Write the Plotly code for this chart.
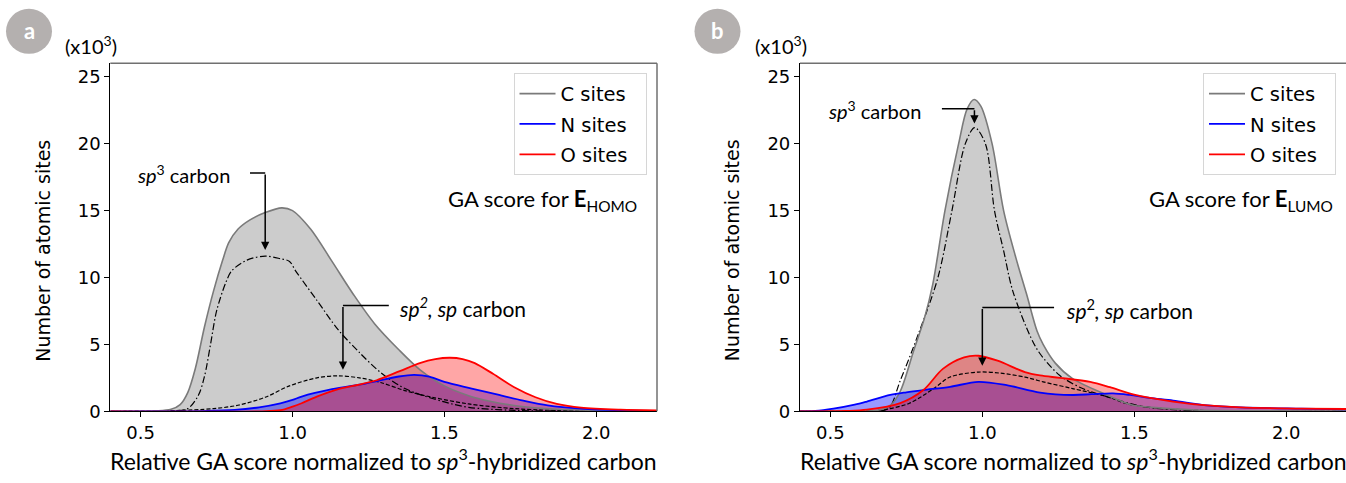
import plotly.graph_objects as go

# ---------------- data (panel a: E_HOMO) ----------------
a_c_x = [0.4, 0.55, 0.6, 0.63, 0.655, 0.68, 0.71, 0.74, 0.77, 0.79, 0.82, 0.86, 0.91, 0.965, 1.0, 1.06, 1.13, 1.20, 1.27, 1.35, 1.42, 1.5, 1.58, 1.65, 1.73, 1.87, 2.0, 2.2]
a_c_y = [0, 0.03, 0.15, 0.5, 1.4, 3.2, 6.3, 9.0, 11.3, 12.6, 13.6, 14.3, 14.85, 15.2, 15.0, 13.6, 11.2, 8.75, 6.55, 4.6, 3.1, 1.9, 1.17, 0.75, 0.44, 0.15, 0.07, 0.02]

a_sp3_x = [0.4, 0.6, 0.655, 0.69, 0.71, 0.73, 0.75, 0.78, 0.80, 0.85, 0.91, 0.96, 0.99, 1.01, 1.08, 1.15, 1.22, 1.29, 1.37, 1.5, 1.58, 1.73, 1.9, 2.2]
a_sp3_y = [0, 0.02, 0.2, 1.2, 2.6, 5.0, 7.5, 9.6, 10.5, 11.3, 11.6, 11.4, 11.2, 10.5, 8.3, 6.1, 4.4, 2.9, 1.7, 0.7, 0.3, 0.07, 0.02, 0]

a_sp2_x = [0.4, 0.6, 0.74, 0.82, 0.91, 0.99, 1.08, 1.15, 1.22, 1.29, 1.37, 1.46, 1.58, 1.73, 1.87, 2.2]
a_sp2_y = [0, 0.05, 0.2, 0.45, 1.05, 1.9, 2.5, 2.65, 2.5, 2.15, 1.55, 1.05, 0.55, 0.2, 0.07, 0]

a_n_x = [0.4, 0.7, 0.81, 0.89, 0.96, 1.0, 1.03, 1.13, 1.24, 1.35, 1.40, 1.45, 1.5, 1.59, 1.68, 1.76, 1.84, 1.95, 2.08, 2.2]
a_n_y = [0, 0.02, 0.1, 0.3, 0.6, 0.85, 1.1, 1.65, 2.07, 2.6, 2.72, 2.6, 2.2, 1.7, 1.22, 0.8, 0.45, 0.2, 0.07, 0.03]

a_o_x = [0.4, 0.9, 0.96, 1.0, 1.03, 1.08, 1.156, 1.22, 1.277, 1.353, 1.419, 1.47, 1.518, 1.56, 1.6, 1.66, 1.73, 1.80, 1.87, 1.95, 2.08, 2.2]
a_o_y = [0, 0, 0.08, 0.35, 0.6, 1.1, 1.7, 2.0, 2.32, 3.0, 3.6, 3.9, 4.0, 3.9, 3.6, 2.8, 1.8, 1.05, 0.55, 0.27, 0.12, 0.07]

# ---------------- data (panel b: E_LUMO) ----------------
b_c_x = [0.4, 0.6, 0.66, 0.70, 0.73, 0.775, 0.81, 0.837, 0.877, 0.922, 0.95, 0.973, 0.995, 1.032, 1.07, 1.11, 1.145, 1.18, 1.2, 1.24, 1.297, 1.41, 1.49, 1.56, 1.7, 2.2]
b_c_y = [0, 0.02, 0.1, 0.5, 1.5, 4.6, 7.0, 9.5, 15.0, 20.0, 22.6, 23.3, 22.8, 20.0, 15.0, 11.5, 8.8, 6.0, 5.0, 3.6, 2.44, 1.22, 0.49, 0.29, 0.1, 0.02]

b_sp3_x = [0.4, 0.62, 0.69, 0.73, 0.79, 0.854, 0.9, 0.944, 0.975, 1.01, 1.04, 1.07, 1.1, 1.16, 1.19, 1.255, 1.33, 1.41, 1.5, 1.56, 1.7, 2.2]
b_sp3_y = [0, 0.02, 0.2, 2.3, 5.8, 10.0, 15.0, 20.0, 21.2, 20.0, 15.0, 12.0, 9.0, 5.5, 4.3, 2.68, 1.7, 1.1, 0.5, 0.25, 0.05, 0]

b_sp2_x = [0.4, 0.6, 0.67, 0.76, 0.84, 0.894, 0.987, 1.06, 1.14, 1.2, 1.297, 1.41, 1.47, 1.55, 1.7, 2.2]
b_sp2_y = [0, 0.02, 0.1, 0.6, 1.7, 2.56, 2.93, 2.85, 2.56, 2.2, 1.7, 1.1, 0.6, 0.3, 0.08, 0]

b_n_x = [0.4, 0.45, 0.51, 0.58, 0.62, 0.697, 0.75, 0.806, 0.894, 0.987, 1.08, 1.19, 1.297, 1.36, 1.43, 1.485, 1.55, 1.628, 1.74, 1.85, 2.05, 2.2]
b_n_y = [0, 0.03, 0.2, 0.5, 0.73, 1.22, 1.42, 1.59, 1.83, 2.2, 1.95, 1.4, 1.22, 1.28, 1.34, 1.22, 1.0, 0.8, 0.44, 0.29, 0.2, 0.15]

b_o_x = [0.4, 0.55, 0.62, 0.73, 0.806, 0.87, 0.94, 0.987, 1.05, 1.14, 1.19, 1.255, 1.355, 1.42, 1.496, 1.628, 1.74, 1.85, 2.05, 2.2]
b_o_y = [0, 0.03, 0.12, 0.61, 1.59, 3.17, 4.03, 4.15, 3.78, 2.93, 2.68, 2.5, 2.2, 1.8, 1.27, 0.73, 0.44, 0.29, 0.2, 0.17]

x_ticks = [0.5, 1.0, 1.5, 2.0]
x_tick_labels = ["0.5", "1.0", "1.5", "2.0"]
y_ticks = [0, 5, 10, 15, 20, 25]
y_tick_labels = ["0", "5", "10", "15", "20", "25"]
series_names = ["C sites", "N sites", "O sites"]

W, H = 1346, 483
TXT_FONT = "Lato"
MPL_FONT = "DejaVu Sans"

def px_x(p):
    return p / W

def px_y(p):
    return 1 - p / H

fig = go.Figure()

panels = [
    dict(xa="x", ya="y", leg="legend",
         c=(a_c_x, a_c_y), sp3=(a_sp3_x, a_sp3_y), sp2=(a_sp2_x, a_sp2_y),
         n=(a_n_x, a_n_y), o=(a_o_x, a_o_y)),
    dict(xa="x2", ya="y2", leg="legend2",
         c=(b_c_x, b_c_y), sp3=(b_sp3_x, b_sp3_y), sp2=(b_sp2_x, b_sp2_y),
         n=(b_n_x, b_n_y), o=(b_o_x, b_o_y)),
]

SM = 0.9
for pi, p in enumerate(panels):
    xa, ya = p["xa"], p["ya"]
    for key, fc in [("c", "rgba(128,128,128,0.4)"), ("n", "rgba(0,0,255,0.4)"), ("o", "rgba(255,0,0,0.35)")]:
        xs, ys = p[key]
        fig.add_trace(go.Scatter(x=xs, y=ys, mode="lines", fill="tozeroy", fillcolor=fc,
                                 line=dict(width=0, shape="spline", smoothing=SM),
                                 showlegend=False, hoverinfo="skip", xaxis=xa, yaxis=ya))
    xs, ys = p["sp3"]
    fig.add_trace(go.Scatter(x=xs, y=ys, mode="lines",
                             line=dict(color="black", width=1.2, dash="7px,2.5px,1.5px,2.5px", shape="spline", smoothing=SM),
                             showlegend=False, xaxis=xa, yaxis=ya))
    xs, ys = p["sp2"]
    fig.add_trace(go.Scatter(x=xs, y=ys, mode="lines",
                             line=dict(color="black", width=1.2, dash="4px,2px", shape="spline", smoothing=SM),
                             showlegend=False, xaxis=xa, yaxis=ya))
    for key, name, col, wd in [("c", series_names[0], "#7a7a7a", 1.6), ("n", series_names[1], "blue", 1.8),
                               ("o", series_names[2], "red", 1.8)]:
        xs, ys = p[key]
        fig.add_trace(go.Scatter(x=xs, y=ys, mode="lines", name=name + "  ",
                                 legendgroup=f"{key}{pi}",
                                 line=dict(color=col, width=wd, shape="spline", smoothing=SM),
                                 legend=p["leg"], xaxis=xa, yaxis=ya))

ydom = [(H - 420) / H, (H - 64.7) / H]
axis_common = dict(showgrid=False, zeroline=False, showline=True, linecolor="black", linewidth=1.2,
                   ticks="outside", ticklen=5, tickwidth=1.2, tickcolor="black",
                   tickfont=dict(family=MPL_FONT, size=18, color="black"))

leg_common = dict(yanchor="top", y=px_y(75), xanchor="right",
                  font=dict(family=MPL_FONT, size=19.5, color="black"),
                  bgcolor="white", bordercolor="#d6d6d6", borderwidth=1, tracegroupgap=2,
                  itemwidth=36)

fig.update_layout(
    width=W, height=H, autosize=False,
    margin=dict(l=0, r=0, t=0, b=0),
    paper_bgcolor="white", plot_bgcolor="white",
    xaxis=dict(domain=[110.3 / W, 657 / W], range=[0.4, 2.2], tickvals=x_ticks, ticktext=x_tick_labels,
               anchor="y", **axis_common),
    yaxis=dict(domain=ydom, range=[0, 26], tickvals=y_ticks, ticktext=y_tick_labels, anchor="x", **axis_common),
    xaxis2=dict(domain=[800 / W, 1.0], range=[0.4, 0.4 + 546 / 303.9], tickvals=x_ticks, ticktext=x_tick_labels,
                anchor="y2", **axis_common),
    yaxis2=dict(domain=ydom, range=[0, 26], tickvals=y_ticks, ticktext=y_tick_labels, anchor="x2", **axis_common),
    legend=dict(x=646.5 / W, **leg_common),
    legend2=dict(x=1336 / W, **leg_common),
)

shapes = []
shapes.append(dict(type="line", xref="x domain", yref="y domain", x0=0, x1=1, y0=1, y1=1,
                   line=dict(color="#707070", width=1.5)))
shapes.append(dict(type="line", xref="x domain", yref="y domain", x0=1, x1=1, y0=0, y1=1,
                   line=dict(color="#707070", width=1.5)))
shapes.append(dict(type="line", xref="x2 domain", yref="y2 domain", x0=0, x1=1, y0=1, y1=1,
                   line=dict(color="#707070", width=1.5)))

for cx, letter in [(29, "a"), (717.5, "b")]:
    shapes.append(dict(type="circle", xref="paper", yref="paper",
                       x0=px_x(cx - 23), x1=px_x(cx + 23), y0=px_y(32 + 23), y1=px_y(32 - 23),
                       fillcolor="#b4b0af", line=dict(width=0), layer="above"))

arrow_h = [("x", "y", 0.86, 0.91, 17.8), ("x", "y", 1.317, 1.166, 7.9),
           ("x2", "y2", 0.867, 0.974, 22.6), ("x2", "y2", 1.236, 1.0, 7.75)]
for xr, yr, x0, x1, yv in arrow_h:
    shapes.append(dict(type="line", xref=xr, yref=yr, x0=x0, x1=x1, y0=yv, y1=yv,
                       line=dict(color="black", width=1.5)))
fig.update_layout(shapes=shapes)

ann = []
arrow_v = [("x", "y", 0.91, 17.8, 12.05), ("x", "y", 1.166, 7.9, 3.1),
           ("x2", "y2", 0.974, 22.6, 21.5), ("x2", "y2", 1.0, 7.75, 3.4)]
for xr, yr, xv, y0, y1 in arrow_v:
    ann.append(dict(xref=xr, yref=yr, x=xv, y=y1, ax=xv, ay=y0, axref=xr, ayref=yr,
                    text="", showarrow=True, arrowhead=2, arrowsize=1.1, arrowwidth=1.5,
                    arrowcolor="black", standoff=0, startstandoff=0))

texts = [
    ("x", "y", 0.48, 17.7, "left", "<i>sp</i><sup>3</sup> carbon", 20),
    ("x", "y", 1.345, 7.8, "left", "<i>sp</i><sup><i>2</i></sup><i>, sp</i> carbon", 21),
    ("x", "y", 2.14, 15.8, "right", "GA score for <b>E</b><sub>HOMO</sub>", 22),
    ("x2", "y2", 0.486, 22.5, "left", "<i>sp</i><sup>3</sup> carbon", 20),
    ("x2", "y2", 1.27, 7.65, "left", "<i>sp</i><sup>2</sup><i>, sp</i> carbon", 21),
    ("x2", "y2", 2.16, 15.8, "right", "GA score for <b>E</b><sub>LUMO</sub>", 22),
]
for xr, yr, xv, yv, xa_, t, fs in texts:
    ann.append(dict(xref=xr, yref=yr, x=xv, y=yv, xanchor=xa_, yanchor="middle", text=t,
                    showarrow=False, font=dict(family=TXT_FONT, size=fs, color="black")))

for cx in [383.5, 1073]:
    ann.append(dict(xref="paper", yref="paper", x=px_x(cx), y=px_y(469), xanchor="center", yanchor="middle",
                    text="Relative GA score normalized to <i>sp</i><sup>3</sup>-hybridized carbon",
                    showarrow=False, font=dict(family=TXT_FONT, size=23, color="black")))
for cx in [43, 731.6]:
    ann.append(dict(xref="paper", yref="paper", x=px_x(cx), y=px_y(256), xanchor="center", yanchor="middle",
                    text="Number of atomic sites", textangle=-90, showarrow=False,
                    font=dict(family=MPL_FONT, size=19, color="black")))
for lx in [63, 753]:
    ann.append(dict(xref="paper", yref="paper", x=px_x(lx), y=px_y(46), xanchor="left", yanchor="middle",
                    text="(x10<sup>3</sup>)", showarrow=False,
                    font=dict(family=TXT_FONT, size=20, color="black")))
for cx, letter in [(29, "a"), (717.5, "b")]:
    ann.append(dict(xref="paper", yref="paper", x=px_x(cx), y=px_y(31), xanchor="center", yanchor="middle",
                    text="<b>" + letter + "</b>", showarrow=False,
                    font=dict(family=TXT_FONT, size=22, color="white")))

fig.update_layout(annotations=ann)
fig.write_html("out.html", config={"displayModeBar": False, "responsive": False},
               post_script="document.body.style.margin='0';document.body.style.overflow='hidden';")
